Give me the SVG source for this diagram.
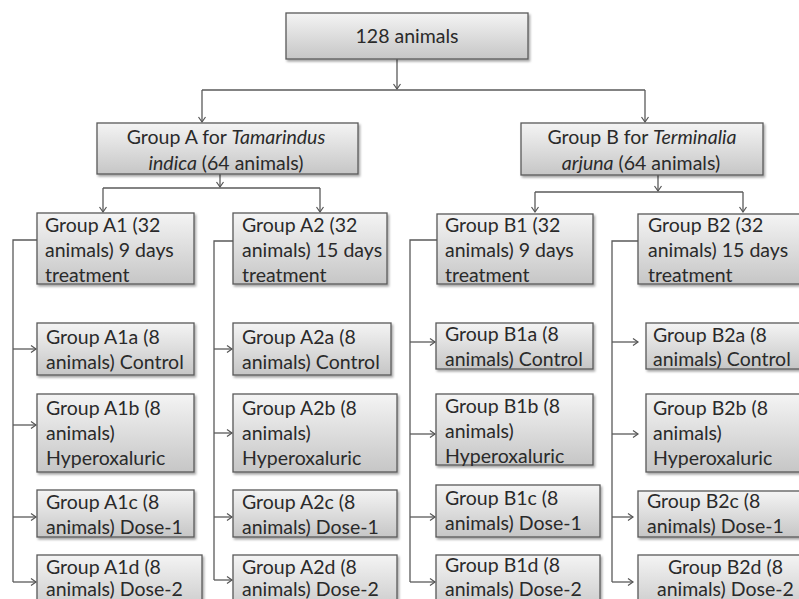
<svg xmlns="http://www.w3.org/2000/svg" width="799" height="599" viewBox="0 0 799 599">
<defs>
<linearGradient id="g" x1="0" y1="0" x2="0" y2="1">
<stop offset="0" stop-color="#f4f4f4"/>
<stop offset="1" stop-color="#c6c6c6"/>
</linearGradient>
<filter id="sh" x="-10%" y="-10%" width="130%" height="140%">
<feDropShadow dx="1.5" dy="2" stdDeviation="1.2" flood-color="#000" flood-opacity="0.35"/>
</filter>
<marker id="ar" markerUnits="userSpaceOnUse" markerWidth="10" markerHeight="10" refX="6" refY="5" orient="auto">
<path d="M1,1.5 L6,5 L1,8.5" fill="none" stroke="#555" stroke-width="1.2"/>
</marker>
<style>
.b{fill:url(#g);stroke:#595959;stroke-width:1.3;filter:url(#sh)}
.t{font-family:Lato,"Liberation Sans",sans-serif;font-size:19.5px;fill:#2a2a2a}
.c{text-anchor:middle}
.c0{fill:none;stroke:#5a5a5a;stroke-width:1.3}
.ca{fill:none;stroke:#5a5a5a;stroke-width:1.3;marker-end:url(#ar)}
</style>
</defs>
<rect width="799" height="599" fill="#fff"/>
<g id="connectors">
<path class="ca" d="M397,59 V89"/>
<path class="c0" d="M202,90 H645"/>
<path class="ca" d="M202,90 V122"/>
<path class="ca" d="M645,90 V122"/>
<path class="ca" d="M220,174 V187"/>
<path class="c0" d="M103,188 H320"/>
<path class="ca" d="M103,188 V212"/>
<path class="ca" d="M320,188 V212"/>
<path class="ca" d="M658,175 V191"/>
<path class="c0" d="M535,192 H743"/>
<path class="ca" d="M535,192 V212"/>
<path class="ca" d="M743,192 V212"/>
<path class="c0" d="M37,240 H13 V582"/>
<path class="ca" d="M13,349 H36"/>
<path class="ca" d="M13,425 H36"/>
<path class="ca" d="M13,517 H36"/>
<path class="ca" d="M13,582 H36"/>
<path class="c0" d="M233,241 H214 V580"/>
<path class="ca" d="M214,349 H232"/>
<path class="ca" d="M214,433 H232"/>
<path class="ca" d="M214,517 H232"/>
<path class="ca" d="M214,580 H232"/>
<path class="c0" d="M437,240 H410 V582"/>
<path class="ca" d="M410,342 H435"/>
<path class="ca" d="M410,434 H435"/>
<path class="ca" d="M410,517 H435"/>
<path class="ca" d="M410,582 H435"/>
<path class="c0" d="M638,241 H612 V582"/>
<path class="ca" d="M612,342 H638"/>
<path class="ca" d="M612,434 H638"/>
<path class="ca" d="M612,517 H633"/>
<path class="ca" d="M612,582 H633"/>
</g>
<g id="n128">
<rect class="b" x="286" y="13" width="242" height="46"/>
<text class="t c" x="407" y="43">128 animals</text>
</g>
<g id="nA">
<rect class="b" x="97" y="123" width="261" height="51"/>
<text class="t c" x="226" y="144">Group A for <tspan font-style="italic">Tamarindus</tspan></text>
<text class="t c" x="226" y="170"><tspan font-style="italic">indica</tspan> (64 animals)</text>
</g>
<g id="nB">
<rect class="b" x="521" y="123" width="242" height="52"/>
<text class="t c" x="642" y="144">Group B for <tspan font-style="italic">Terminalia</tspan></text>
<text class="t c" x="641" y="170"><tspan font-style="italic">arjuna</tspan> (64 animals)</text>
</g>
<g id="nA1">
<rect class="b" x="37" y="213" width="157" height="71"/>
<text class="t" x="45" y="232">Group  A1 (32</text>
<text class="t" x="45" y="257">animals) 9 days</text>
<text class="t" x="45" y="282">treatment</text>
</g>
<g id="nA2">
<rect class="b" x="233" y="213" width="154" height="71"/>
<text class="t" x="242" y="232">Group  A2 (32</text>
<text class="t" x="242" y="257">animals) 15 days</text>
<text class="t" x="242" y="282">treatment</text>
</g>
<g id="nB1">
<rect class="b" x="437" y="214" width="156" height="70"/>
<text class="t" x="445" y="232">Group B1 (32</text>
<text class="t" x="445" y="257">animals) 9 days</text>
<text class="t" x="445" y="282">treatment</text>
</g>
<g id="nB2">
<rect class="b" x="638" y="214" width="175" height="70"/>
<text class="t" x="648" y="232">Group B2 (32</text>
<text class="t" x="648" y="257">animals) 15 days</text>
<text class="t" x="648" y="282">treatment</text>
</g>
<g id="nA1a">
<rect class="b" x="37" y="323" width="157" height="52"/>
<text class="t" x="46" y="344">Group A1a (8</text>
<text class="t" x="46" y="369">animals) Control</text>
</g>
<g id="nA1b">
<rect class="b" x="37" y="394" width="157" height="78"/>
<text class="t" x="46" y="415">Group A1b (8</text>
<text class="t" x="46" y="440">animals)</text>
<text class="t" x="46" y="465">Hyperoxaluric</text>
</g>
<g id="nA1c">
<rect class="b" x="37" y="490" width="157" height="47"/>
<text class="t" x="46" y="509">Group A1c (8</text>
<text class="t" x="46" y="534">animals) Dose-1</text>
</g>
<g id="nA1d">
<rect class="b" x="37" y="555" width="165" height="60"/>
<text class="t" x="46" y="574">Group A1d (8</text>
<text class="t" x="46" y="596">animals) Dose-2</text>
</g>
<g id="nA2a">
<rect class="b" x="233" y="323" width="158" height="52"/>
<text class="t" x="242" y="344">Group A2a (8</text>
<text class="t" x="242" y="369">animals) Control</text>
</g>
<g id="nA2b">
<rect class="b" x="233" y="394" width="164" height="78"/>
<text class="t" x="242" y="415">Group A2b (8</text>
<text class="t" x="242" y="440">animals)</text>
<text class="t" x="242" y="465">Hyperoxaluric</text>
</g>
<g id="nA2c">
<rect class="b" x="233" y="490" width="164" height="47"/>
<text class="t" x="242" y="509">Group A2c (8</text>
<text class="t" x="242" y="534">animals) Dose-1</text>
</g>
<g id="nA2d">
<rect class="b" x="233" y="555" width="164" height="60"/>
<text class="t" x="242" y="574">Group A2d (8</text>
<text class="t" x="242" y="596">animals) Dose-2</text>
</g>
<g id="nB1a">
<rect class="b" x="436" y="323" width="157" height="46"/>
<text class="t" x="445" y="341">Group B1a (8</text>
<text class="t" x="445" y="366">animals) Control</text>
</g>
<g id="nB1b">
<rect class="b" x="436" y="394" width="157" height="71"/>
<text class="t" x="445" y="413">Group B1b (8</text>
<text class="t" x="445" y="438">animals)</text>
<text class="t" x="445" y="463">Hyperoxaluric</text>
</g>
<g id="nB1c">
<rect class="b" x="436" y="485" width="164" height="52"/>
<text class="t" x="445" y="505">Group B1c (8</text>
<text class="t" x="445" y="530">animals) Dose-1</text>
</g>
<g id="nB1d">
<rect class="b" x="436" y="555" width="164" height="60"/>
<text class="t" x="445" y="572">Group B1d (8</text>
<text class="t" x="445" y="596">animals) Dose-2</text>
</g>
<g id="nB2a">
<rect class="b" x="646" y="323" width="170" height="46"/>
<text class="t" x="653" y="342">Group B2a (8</text>
<text class="t" x="653" y="366">animals) Control</text>
</g>
<g id="nB2b">
<rect class="b" x="646" y="394" width="170" height="78"/>
<text class="t" x="653" y="415">Group B2b (8</text>
<text class="t" x="653" y="440">animals)</text>
<text class="t" x="653" y="465">Hyperoxaluric</text>
</g>
<g id="nB2c">
<rect class="b" x="638" y="491" width="178" height="46"/>
<text class="t" x="647" y="508">Group B2c (8</text>
<text class="t" x="647" y="533">animals) Dose-1</text>
</g>
<g id="nB2d">
<rect class="b" x="638" y="555" width="178" height="60"/>
<text class="t" x="668" y="574">Group B2d (8</text>
<text class="t" x="657" y="596">animals) Dose-2</text>
</g>
</svg>
